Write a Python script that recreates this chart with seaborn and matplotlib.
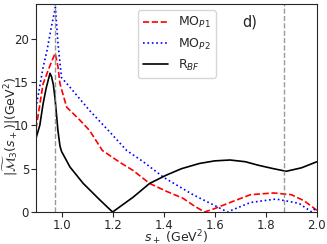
import numpy as np
import pandas as pd
import matplotlib
matplotlib.use('Agg')
import matplotlib.pyplot as plt
import seaborn as sns

# --- data ---
s_bf = [0.90, 0.915, 0.928, 0.94, 0.955, 0.961, 0.968, 0.975, 0.986, 0.994, 1.0, 1.033,
        1.085, 1.15, 1.2, 1.28, 1.345, 1.41, 1.47, 1.54, 1.60, 1.66, 1.72, 1.77,
        1.83, 1.88, 1.94, 2.0]
m_bf = [8.5, 10.0, 12.5, 14.3, 16.0, 15.6, 14.7, 13.0, 9.4, 7.6, 7.0, 5.2,
        3.3, 1.4, 0.0, 1.7, 3.3, 4.25, 5.0, 5.6, 5.9, 6.0, 5.8, 5.4,
        5.0, 4.7, 5.1, 5.8]

s_p1 = [0.90, 0.928, 0.955, 0.975, 0.986, 0.994, 1.02, 1.072, 1.11, 1.16, 1.23, 1.28,
        1.345, 1.41, 1.475, 1.52, 1.56, 1.60, 1.66, 1.74, 1.83, 1.90, 1.95, 2.0]
m_p1 = [9.6, 14.8, 16.9, 18.3, 16.8, 14.8, 12.1, 10.6, 9.4, 7.1, 5.7, 4.8,
        3.3, 2.4, 1.6, 0.7, 0.0, 0.4, 1.1, 2.0, 2.2, 2.0, 1.3, 0.2]

s_p2 = [0.90, 0.928, 0.943, 0.960, 0.976, 0.986, 1.0, 1.033, 1.11, 1.19, 1.255, 1.32, 1.40,
        1.515, 1.61, 1.65, 1.69, 1.74, 1.84, 1.93, 1.98, 2.0]
m_p2 = [12.0, 16.7, 18.6, 21.3, 23.6, 19.5, 15.5, 14.4, 11.7, 9.2, 7.1, 5.8, 4.0,
        2.0, 0.6, 0.0, 0.5, 1.1, 1.5, 1.0, 0.0, 0.6]

vlines = [0.976, 1.872]

sns.set_style('ticks')
plt.rcParams['font.family'] = ['DejaVu Sans']

fig = plt.figure(figsize=(3.27, 2.44), dpi=100)
ax = fig.add_axes([0.110, 0.131, 0.859, 0.853])

sns.lineplot(x=s_p1, y=m_p1, ax=ax, color='red', linestyle='--', lw=1.2, label=r'MO$_{P1}$')
sns.lineplot(x=s_p2, y=m_p2, ax=ax, color='blue', linestyle=':', lw=1.2, label=r'MO$_{P2}$')
sns.lineplot(x=s_bf, y=m_bf, ax=ax, color='black', linestyle='-', lw=1.2, label=r'R$_{BF}$')

for xv in vlines:
    ax.axvline(xv, color='gray', linestyle='--', lw=1.0, alpha=0.8)

ax.set_xlim(0.9, 2.0)
ax.set_ylim(0, 24)
ax.set_xticks([1.0, 1.2, 1.4, 1.6, 1.8, 2.0])
ax.set_yticks([0, 5, 10, 15, 20])
ax.tick_params(labelsize=8.5, length=3.5, pad=1.5)
ax.set_xlabel(r'$s_+$ (GeV$^2$)', fontsize=9)
ax.set_ylabel(r'$|\widetilde{\mathcal{M}}_3(s_+)|$(GeV$^2$)', fontsize=9)
ax.xaxis.set_label_coords(0.5, -0.078)
ax.yaxis.set_label_coords(-0.058, 0.41)
ax.legend(loc='upper left', bbox_to_anchor=(0.363, 0.97), borderaxespad=0,
          fontsize=9, frameon=True)
ax.text(0.733, 0.89, 'd)', transform=ax.transAxes, fontsize=10.5)

fig.savefig('out.png', dpi=100)
